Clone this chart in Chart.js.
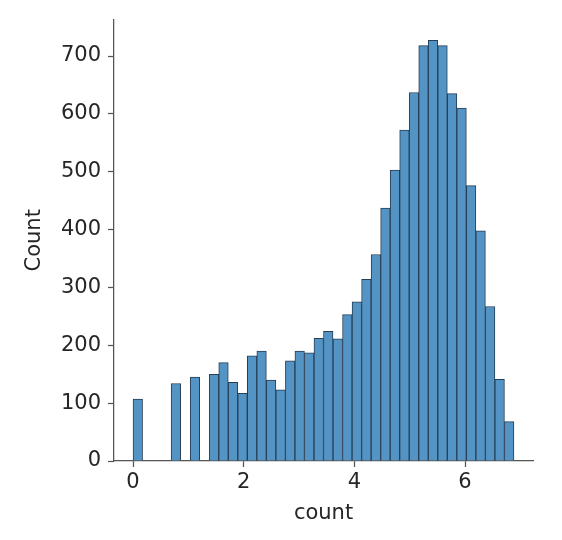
<!DOCTYPE html>
<html>
<head>
<meta charset="utf-8">
<script src="https://cdn.jsdelivr.net/npm/chart.js@4/dist/chart.umd.min.js"></script>
<style>
  html, body { margin: 0; padding: 0; background: #fff; }
  #wrap { width: 562px; height: 540px; }
</style>
</head>
<body>
<div id="wrap"><canvas id="chart" width="562" height="540"></canvas></div>
<script>
// histogram of log(count), 40 equal bins
const binMin = 0;
const binMax = 6.884;
const binCounts = [107, null, null, null, 134, null, 145, null, 150, 170,
                   136, 117, 182, 190, 140, 123, 173, 190, 187, 212,
                   224, 211, 253, 275, 314, 357, 437, 503, 572, 637,
                   718, 727, 718, 635, 610, 476, 398, 267, 141, 68];
const xTicks = [0, 2, 4, 6];
const yTicks = [0, 100, 200, 300, 400, 500, 600, 700];
const xTitle = 'count';
const yTitle = 'Count';

const binW = (binMax - binMin) / binCounts.length;
const points = binCounts.map((c, i) => ({x: binMin + (i + 0.5) * binW, y: c}));

const textColor = '#262626';
const axisColor = '#555555';
const font = {family: 'DejaVu Sans', size: 21};

new Chart(document.getElementById('chart').getContext('2d'), {
  type: 'bar',
  data: {
    datasets: [{
      data: points,
      backgroundColor: 'rgb(84,148,196)',
      borderColor: 'rgb(38,62,86)',
      borderWidth: 1,
      barPercentage: 1,
      categoryPercentage: 1
    }]
  },
  options: {
    responsive: false,
    animation: false,
    layout: {padding: {left: 0, right: 29, top: 18, bottom: 0}},
    plugins: {legend: {display: false}, tooltip: {enabled: false}},
    scales: {
      x: {
        type: 'linear',
        offset: false,
        min: -0.344,
        max: 7.228,
        afterBuildTicks: s => { s.ticks = xTicks.map(v => ({value: v})); },
        afterFit: s => { s.height = 79; },
        grid: {offset: false, drawOnChartArea: false, drawTicks: true, tickLength: 6, tickColor: axisColor, tickWidth: 1.25},
        border: {display: true, color: axisColor, width: 1.25},
        ticks: {color: textColor, font: font, padding: 3, maxRotation: 0},
        title: {display: true, text: xTitle, color: textColor, font: font, padding: {top: 0, bottom: 14}}
      },
      y: {
        min: 0,
        max: 763,
        afterBuildTicks: s => { s.ticks = yTicks.map(v => ({value: v})); },
        afterFit: s => { s.width = 114; },
        grid: {drawOnChartArea: false, drawTicks: true, tickLength: 6, tickColor: axisColor, tickWidth: 1.25},
        border: {display: true, color: axisColor, width: 1.25},
        ticks: {color: textColor, font: font, padding: 7},
        title: {display: true, text: yTitle, color: textColor, font: font, padding: {top: 22, bottom: 0}}
      }
    }
  }
});
</script>
</body>
</html>
